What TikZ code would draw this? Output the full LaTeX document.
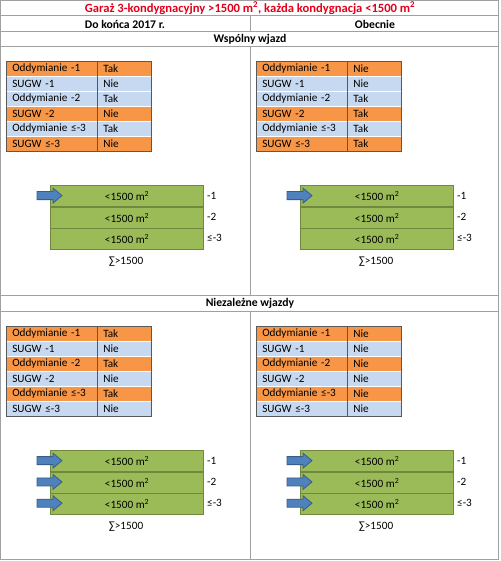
\documentclass[tikz,border=0pt]{standalone}
\usepackage{fontspec}
\setmainfont{Carlito}
\definecolor{ora}{HTML}{F79646}
\definecolor{lbl}{HTML}{C6D9F1}
\definecolor{grn}{HTML}{9BBB59}
\definecolor{grnd}{HTML}{71893F}
\definecolor{arr}{HTML}{4F81BD}
\definecolor{arrd}{HTML}{385D8A}
\definecolor{frm}{HTML}{A0A0A0}
\definecolor{titler}{HTML}{E3001B}
\definecolor{tabl}{HTML}{595959}
\tikzset{
  frameline/.style={draw=frm, line width=1pt},
  lcell/.style={rectangle, anchor=north west, draw=white, line width=0.6pt, minimum height=15pt, text width=79pt, inner xsep=6pt, inner ysep=0pt, align=left},
  vcell/.style={rectangle, anchor=north west, draw=white, line width=0.6pt, minimum height=15pt, text width=42pt, inner xsep=6pt, inner ysep=0pt, align=left},
  tabline/.style={draw=tabl, line width=0.8pt},
  gbox/.style={rectangle, anchor=north west, fill=grn, draw=grnd, line width=1.2pt, minimum width=153pt, minimum height=21.3pt, inner sep=0pt},
  blk/.style={fill=arr, draw=arrd, line width=0.8pt, line join=miter},
  hdr/.style={font=\fontsize{11.7}{13}\selectfont\bfseries},
  lvl/.style={anchor=west, inner sep=0pt},
}
\newcommand\mytable[4]{%
  \begin{scope}[shift={(#1,#2)}]
    \foreach \c/\l/\v [count=\i from 0] in {#4} {
      \node[lcell, fill=\c] (#3l\i) at (0,{15*\i}) {\l};
      \node[vcell, fill=\c] (#3v\i) at (91,{15*\i}) {\v};
    }
    \draw[tabline] (#3l0.north west) rectangle (#3v5.south east);
    \draw[tabline] (#3v0.north west) -- (#3v5.south west);
  \end{scope}}
\newcommand\myarrow[2]{%
  \draw[blk] (#1,#2) ++(-25,-4) -- ++(16,0) -- ++(0,-3.5) -- ++(9,7.5) -- ++(-9,7.5) -- ++(0,-3.5) -- ++(-16,0) -- cycle;}
\newcommand\mystack[4]{%
  \begin{scope}[shift={(#1,#2)}]
    \node[gbox] (#3b1) at (0,0) {<1500 m\textsuperscript{2}};
    \node[gbox] (#3b2) at (0,21.3) {<1500 m\textsuperscript{2}};
    \node[gbox] (#3b3) at (0,42.6) {<1500 m\textsuperscript{2}};
    \node[lvl] (#3n1) at (157,10.6) {-1};
    \node[lvl] (#3n2) at (157,31.9) {-2};
    \node[lvl] (#3n3) at (157,53.2) {≤-3};
    \node (#3s) at (76,77) {∑>1500};
    \foreach \k in {1,...,#4} {\myarrow{12}{{10.6+21.3*(\k-1)}}}
  \end{scope}}
\begin{document}
\begin{tikzpicture}[x=1pt,y=-1pt,font=\fontsize{11.2}{12}\selectfont]
\useasboundingbox (0,0) rectangle (500,561);
\fill[white] (0,0) rectangle (500,561);
% frame
\draw[frameline, line width=1.4pt] (0.7,0.7) rectangle (498.6,559.6);
\draw[frameline] (0.7,16) -- (498.6,16);
\draw[frameline] (0.7,31.5) -- (498.6,31.5);
\draw[frameline] (0.7,46.5) -- (498.6,46.5);
\draw[frameline] (0.7,295) -- (498.6,295);
\draw[frameline] (0.7,311) -- (498.6,311);
\draw[frameline] (250,16) -- (250,31.5);
\draw[frameline] (250,46.5) -- (250,295);
\draw[frameline] (250,311) -- (250,559.6);
% headers
\node[font=\fontsize{12.6}{14}\selectfont\bfseries, text=titler] (title) at (250,8.3) {Garaż 3-kondygnacyjny >1500 m\textsuperscript{2}, każda kondygnacja <1500 m\textsuperscript{2}};
\node[hdr] (hl) at (125,24) {Do końca 2017 r.};
\node[hdr] (hr) at (375,24) {Obecnie};
\node[hdr] (s1) at (250,39) {Wspólny wjazd};
\node[hdr] (s2) at (250,303) {Niezależne wjazdy};
% tables
\mytable{6}{61}{A}{ora/Oddymianie -1/Tak, lbl/SUGW -1/Nie, lbl/Oddymianie -2/Tak, ora/SUGW -2/Nie, lbl/Oddymianie ≤-3/Tak, ora/SUGW ≤-3/Nie}
\mytable{256}{61}{B}{ora/Oddymianie -1/Nie, lbl/SUGW -1/Nie, lbl/Oddymianie -2/Tak, ora/SUGW -2/Tak, lbl/Oddymianie ≤-3/Tak, ora/SUGW ≤-3/Tak}
\mytable{6}{326}{C}{ora/Oddymianie -1/Tak, lbl/SUGW -1/Nie, ora/Oddymianie -2/Tak, lbl/SUGW -2/Nie, ora/Oddymianie ≤-3/Tak, lbl/SUGW ≤-3/Nie}
\mytable{256}{326}{D}{ora/Oddymianie -1/Nie, lbl/SUGW -1/Nie, ora/Oddymianie -2/Nie, lbl/SUGW -2/Nie, ora/Oddymianie ≤-3/Nie, lbl/SUGW ≤-3/Nie}
% stacks
\mystack{50}{185}{E}{1}
\mystack{300}{185}{F}{1}
\mystack{50}{450}{G}{3}
\mystack{300}{450}{H}{3}
\end{tikzpicture}
\end{document}
